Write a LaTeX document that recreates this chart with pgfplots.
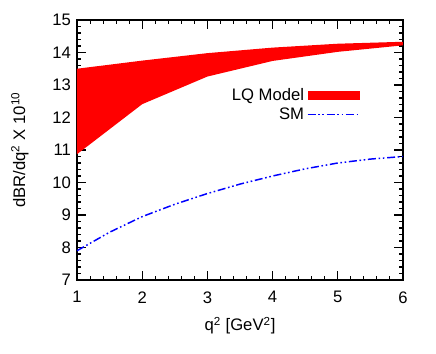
\documentclass[border=0pt]{standalone}
\usepackage{pgfplots}
\pgfplotsset{compat=1.18}
\usetikzlibrary{calc}
\usepackage{fontspec}
\setmainfont{Liberation Sans}
\newcommand{\fs}{\fontsize{12.5}{15}\selectfont}
\begin{document}
\begin{tikzpicture}[x=0.75pt,y=0.75pt]
\begin{axis}[
  scale only axis,
  width=244.5pt, height=195pt,
  xmin=1, xmax=6, ymin=7, ymax=15,
  xtick={1,2,3,4,5,6}, ytick={7,8,...,15},
  minor x tick num=4, minor y tick num=4,
  tick align=inside, tick pos=both,
  major tick length=6.5pt, minor tick length=3pt,
  axis line style={line width=1pt},
  every tick/.style={black, line width=0.8pt},
  tick label style={font=\fs},
  xticklabel style={yshift=-5pt},
  yticklabel style={xshift=-1pt},
  label style={font=\fs},
  /pgf/number format/assume math mode=true,
  xlabel={q\textsuperscript{2} [GeV\textsuperscript{2}]},
  ylabel={dBR/dq\textsuperscript{2} X 10\textsuperscript{10}},
  xlabel style={yshift=-3.5pt},
  ylabel style={yshift=11pt},
  legend style={draw=none, fill=none, at={(axis cs:5.41,13.07)}, anchor=north east,
    font=\fs, row sep=0pt, /tikz/every even column/.append style={column sep=4pt}},
  legend cell align=right,
  legend plot pos=right,
]
\addplot[fill=red, draw=none,
  legend image code/.code={\fill[red] (0pt,-3.4pt) rectangle (39pt,3.4pt);}]
coordinates {(1,13.5) (2,13.75) (3,13.98) (4,14.15) (5,14.27) (6,14.33)
             (6,14.22) (5,14.02) (4,13.74) (3,13.26) (2,12.41) (1,10.87)};
\addlegendentry{LQ Model}
\addplot[blue, line width=1.1pt, dash pattern=on 6pt off 2pt on 1.2pt off 2pt on 1.2pt off 2pt,
  legend image code/.code={\draw[blue, line width=1.1pt, dash pattern=on 6pt off 2pt on 1.2pt off 2pt on 1.2pt off 2pt] (0pt,0pt) -- (39pt,0pt);}]
coordinates {(1,7.9) (1.5,8.47) (2,8.95) (2.5,9.33) (3,9.66) (3.5,9.95) (4,10.2) (4.5,10.42) (5,10.6) (5.5,10.72) (6,10.8)};
\addlegendentry{SM}
\end{axis}
\path (current axis.south west) ++(-77,-74) coordinate (bbsw);
\path (current axis.north east) ++(33,20) coordinate (bbne);
\path (bbsw) rectangle (bbne);
\end{tikzpicture}
\end{document}
